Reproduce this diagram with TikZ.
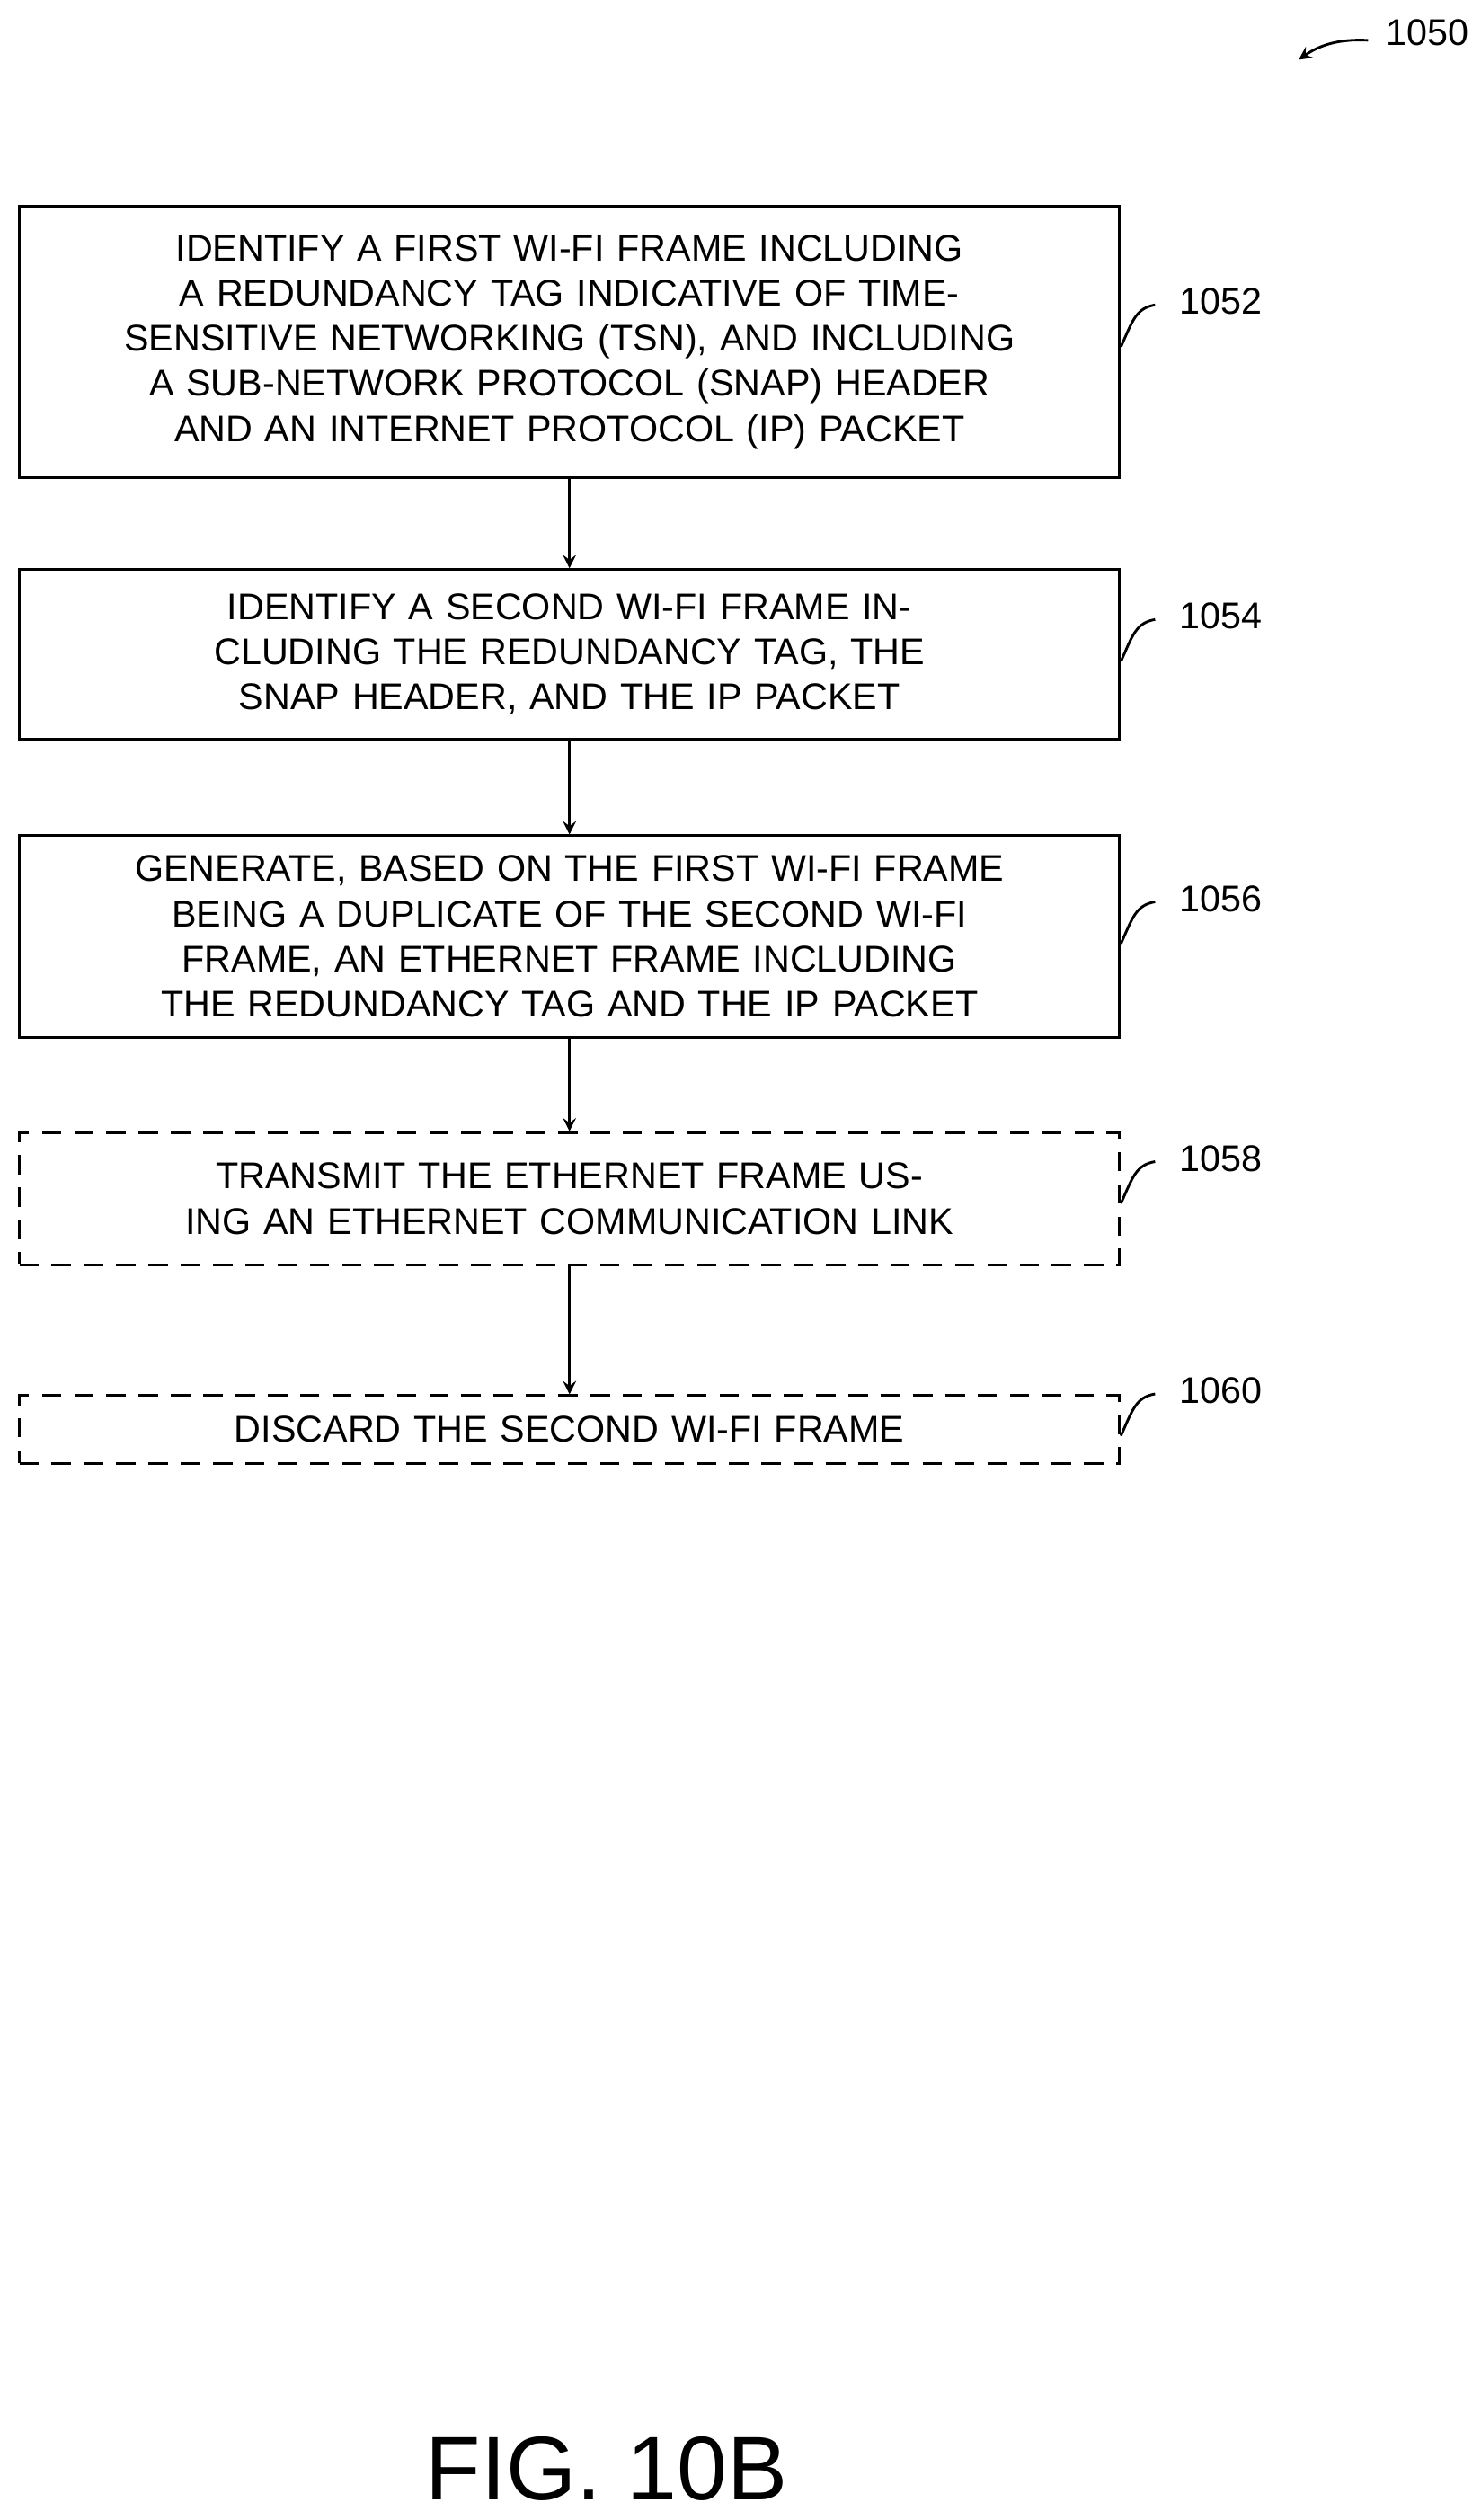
\documentclass[tikz,border=0pt]{standalone}
\usepackage{fontspec}
\setmainfont{Liberation Sans}
\usetikzlibrary{positioning}
\begin{document}
\begin{tikzpicture}[x=0.5pt,y=-0.5pt,
        font=\fontsize{11.5}{14}\selectfont,
        stepbox/.style={draw,thick,minimum width=341pt,align=center,text width=325pt,inner sep=0pt},
        opt/.style={stepbox,dashed,dash pattern=on 6pt off 4pt},
        flow/.style={->,thick,>=stealth},
        tag/.style={thick}]
    \useasboundingbox (0,0) rectangle (918,1562);

    \node[stepbox,minimum height=84pt] (s1) at (353,212) {IDENTIFY A FIRST WI-FI FRAME INCLUDING A REDUNDANCY TAG INDICATIVE OF TIME-SENSITIVE NETWORKING (TSN), AND INCLUDING A SUB-NETWORK PROTOCOL (SNAP) HEADER AND AN INTERNET PROTOCOL (IP) PACKET};
    \node[stepbox,minimum height=52.5pt] (s2) at (353,405.5) {IDENTIFY A SECOND WI-FI FRAME INCLUDING THE REDUNDANCY TAG, THE SNAP HEADER, AND THE IP PACKET};
    \node[stepbox,minimum height=62.5pt] (s3) at (353,580.5) {GENERATE, BASED ON THE FIRST WI-FI FRAME BEING A DUPLICATE OF THE SECOND WI-FI FRAME, AN ETHERNET FRAME INCLUDING THE REDUNDANCY TAG AND THE IP PACKET};
    \node[opt,minimum height=41pt] (s4) at (353,743) {TRANSMIT THE ETHERNET FRAME USING AN ETHERNET COMMUNICATION LINK};
    \node[opt,minimum height=21pt] (s5) at (353,886) {DISCARD THE SECOND WI-FI FRAME};

    \draw[flow] (s1) -- (s2);
    \draw[flow] (s2) -- (s3);
    \draw[flow] (s3) -- (s4);
    \draw[flow] (s4) -- (s5);

    % reference numerals
    \foreach \n/\y in {s1/187,s2/382,s3/557,s4/718,s5/862}{
        \draw[tag] (\n.east |- 0,\y+28) .. controls (702,\y+12) and (704,\y+4) .. (716,\y+2);
    }
    \node[anchor=west] (r1) at (724,187) {1052};
    \node[anchor=west] (r2) at (724,382) {1054};
    \node[anchor=west] (r3) at (724,557) {1056};
    \node[anchor=west] (r4) at (724,718) {1058};
    \node[anchor=west] (r5) at (724,862) {1060};

    \node[anchor=west] (fig) at (852,20) {1050};
    \coordinate (tip) at (805,37);
    \draw[flow] (848,25) .. controls (830,24) and (818,28) .. (tip);

    \node[font=\fontsize{28}{32}\selectfont] (cap) at (376,1530) {FIG. 10B};
\end{tikzpicture}
\end{document}
